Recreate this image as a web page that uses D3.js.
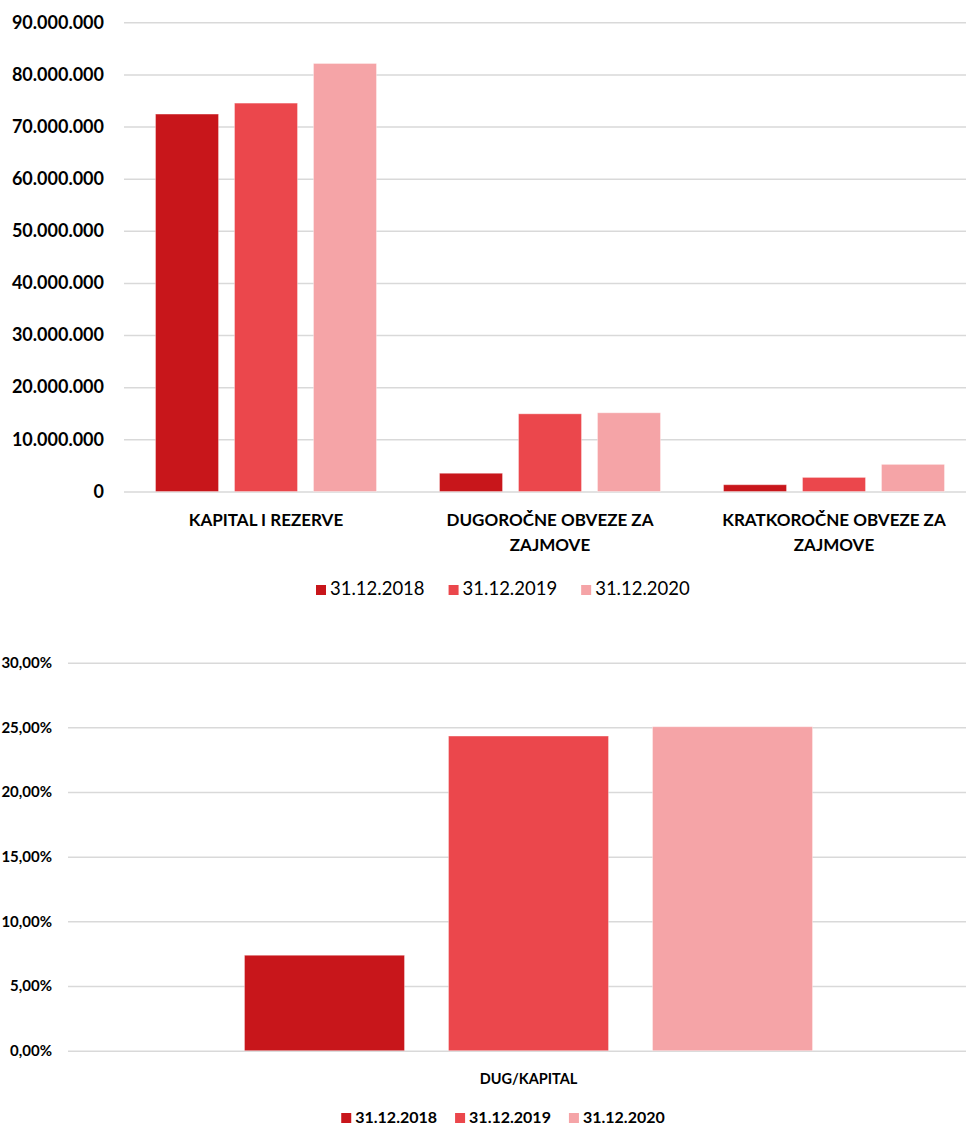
<!DOCTYPE html>
<html lang="hr">
<head>
    <meta charset="UTF-8">
    <title>Kapital i obveze</title>
    <script src="https://cdn.jsdelivr.net/npm/d3@7"></script>
    <style>
        body { margin: 0; background: #fff; }
        text { font-family: Lato, "Open Sans", sans-serif; fill: #000; }
    </style>
</head>
<body>

<script>

    // podaci
    var categories = ["KAPITAL I REZERVE", "DUGOROČNE OBVEZE ZA ZAJMOVE", "KRATKOROČNE OBVEZE ZA ZAJMOVE"];
    var seriesNames = ["31.12.2018", "31.12.2019", "31.12.2020"];
    var values2018 = [72400000, 3500000, 1300000];
    var values2019 = [74500000, 14900000, 2700000];
    var values2020 = [82100000, 15100000, 5200000];
    var yTicksTop = [0, 10000000, 20000000, 30000000, 40000000, 50000000, 60000000, 70000000, 80000000, 90000000];

    var ratioCategories = ["DUG/KAPITAL"];
    var ratio2018 = [7.38];
    var ratio2019 = [24.33];
    var ratio2020 = [25.05];
    var yTicksBottom = [0, 5, 10, 15, 20, 25, 30];

    var colors = ["#C8161B", "#EB474C", "#F5A4A7"];

    var width = 966, height = 1128;

    var svg = d3.select("body").append("svg")
        .attr("width", width)
        .attr("height", height);

    var hr = d3.formatLocale({decimal: ",", thousands: ".", grouping: [3], currency: ["", " kn"]});
    var fmtInt = hr.format(",.0f");
    var fmtPct = hr.format(".2f");

    // ---------- gornji graf ----------
    var topBox = {left: 124, right: 976, y0: 491.5, y1: 22.3};
    var rowsTop = categories.map(function(c, i) {
        return {cat: c, vals: [values2018[i], values2019[i], values2020[i]]};
    });

    var x0 = d3.scaleBand().domain(categories).range([topBox.left, topBox.right])
        .paddingInner(0.222).paddingOuter(0.111);
    var x1 = d3.scaleBand().domain(seriesNames).range([0, x0.bandwidth()])
        .paddingInner(0.2025).paddingOuter(0);
    var y = d3.scaleLinear().domain([0, 90000000]).range([topBox.y0, topBox.y1]);

    var gTop = svg.append("g");

    gTop.append("g")
        .attr("transform", "translate(" + topBox.left + ",0)")
        .call(d3.axisLeft(y).tickValues(yTicksTop).tickFormat(fmtInt)
            .tickSizeInner(-(topBox.right - topBox.left)).tickSizeOuter(0).tickPadding(20))
        .call(function(g) {
            g.select(".domain").remove();
            g.selectAll(".tick line").attr("stroke", "#d9d9d9").attr("stroke-width", 1.5);
            g.selectAll(".tick text").attr("font-size", 18).attr("font-weight", "bold")
                .attr("fill", "#000").style("font-family", "Lato, sans-serif");
        });

    gTop.selectAll(".grp").data(rowsTop).enter().append("g")
        .attr("transform", function(d) { return "translate(" + x0(d.cat) + ",0)"; })
        .selectAll("rect").data(function(d) { return d.vals; }).enter().append("rect")
        .attr("x", function(d, i) { return x1(seriesNames[i]); })
        .attr("width", x1.bandwidth())
        .attr("y", function(d) { return y(d); })
        .attr("height", function(d) { return y(0) - y(d); })
        .attr("fill", function(d, i) { return colors[i]; })
        .attr("stroke", "#fff").attr("stroke-opacity", 0.35).attr("stroke-width", 1);

    // kategorije (prelamanje u dva reda)
    function wrapLabel(sel, maxW, lineH) {
        sel.each(function(d) {
            var t = d3.select(this), words = d.split(" "), line = [], lines = [];
            var probe = t.append("tspan");
            words.forEach(function(w) {
                line.push(w);
                probe.text(line.join(" "));
                if (probe.node().getComputedTextLength() > maxW && line.length > 1) {
                    line.pop();
                    lines.push(line.join(" "));
                    line = [w];
                }
            });
            lines.push(line.join(" "));
            probe.remove();
            lines.forEach(function(l, i) {
                t.append("tspan").attr("x", t.attr("x")).attr("dy", i === 0 ? 0 : lineH).text(l);
            });
        });
    }

    gTop.selectAll(".cat").data(categories).enter().append("text")
        .attr("x", function(d) { return x0(d) + x0.bandwidth() / 2; })
        .attr("y", 526)
        .attr("text-anchor", "middle")
        .attr("font-size", 17).attr("font-weight", "bold")
        .call(wrapLabel, 230, 25);

    function legend(g, cx, yBase, fontSize, bold, gap) {
        var items = g.selectAll(".li").data(seriesNames).enter().append("g");
        items.append("rect")
            .attr("width", 10).attr("height", 10)
            .attr("y", yBase - 10)
            .attr("fill", function(d, i) { return colors[i]; });
        items.append("text")
            .attr("x", 14).attr("y", yBase)
            .attr("font-size", fontSize)
            .attr("font-weight", bold ? "bold" : "normal")
            .text(function(d) { return d; });
        var widths = [];
        items.each(function() { widths.push(this.getBBox().width); });
        var total = d3.sum(widths) + gap * (widths.length - 1);
        var xPos = cx - total / 2;
        items.attr("transform", function(d, i) {
            var t = "translate(" + xPos + ",0)";
            xPos += widths[i] + gap;
            return t;
        });
    }

    legend(gTop.append("g"), 503, 595, 18.5, false, 24);

    // ---------- donji graf ----------
    var bot = {left: 68, right: 989, y0: 1050.7, y1: 662.7};
    var rowsBot = ratioCategories.map(function(c, i) {
        return {cat: c, vals: [ratio2018[i], ratio2019[i], ratio2020[i]]};
    });

    var bx0 = d3.scaleBand().domain(ratioCategories).range([bot.left, bot.right])
        .paddingInner(0.383).paddingOuter(0.1917);
    var bx1 = d3.scaleBand().domain(seriesNames).range([0, bx0.bandwidth()])
        .paddingInner(0.2157).paddingOuter(0);
    var by = d3.scaleLinear().domain([0, 30]).range([bot.y0, bot.y1]);

    var gBot = svg.append("g");

    gBot.append("g")
        .attr("transform", "translate(" + bot.left + ",0)")
        .call(d3.axisLeft(by).tickValues(yTicksBottom).tickFormat(function(d) { return fmtPct(d) + "%"; })
            .tickSizeInner(-(bot.right - bot.left)).tickSizeOuter(0).tickPadding(16))
        .call(function(g) {
            g.select(".domain").remove();
            g.selectAll(".tick line").attr("stroke", "#d9d9d9").attr("stroke-width", 1.5);
            g.selectAll(".tick text").attr("font-size", 15).attr("font-weight", "bold")
                .attr("fill", "#000").style("font-family", "Lato, sans-serif");
        });

    gBot.selectAll(".grp").data(rowsBot).enter().append("g")
        .attr("transform", function(d) { return "translate(" + bx0(d.cat) + ",0)"; })
        .selectAll("rect").data(function(d) { return d.vals; }).enter().append("rect")
        .attr("x", function(d, i) { return bx1(seriesNames[i]); })
        .attr("width", bx1.bandwidth())
        .attr("y", function(d) { return by(d); })
        .attr("height", function(d) { return by(0) - by(d); })
        .attr("fill", function(d, i) { return colors[i]; })
        .attr("stroke", "#fff").attr("stroke-opacity", 0.35).attr("stroke-width", 1);

    gBot.selectAll(".cat").data(ratioCategories).enter().append("text")
        .attr("x", function(d) { return bx0(d) + bx0.bandwidth() / 2; })
        .attr("y", 1084)
        .attr("text-anchor", "middle")
        .attr("font-size", 14.5).attr("font-weight", "bold")
        .text(function(d) { return d; });

    legend(gBot.append("g"), 503, 1123, 16, true, 18);

</script>

</body>
</html>
